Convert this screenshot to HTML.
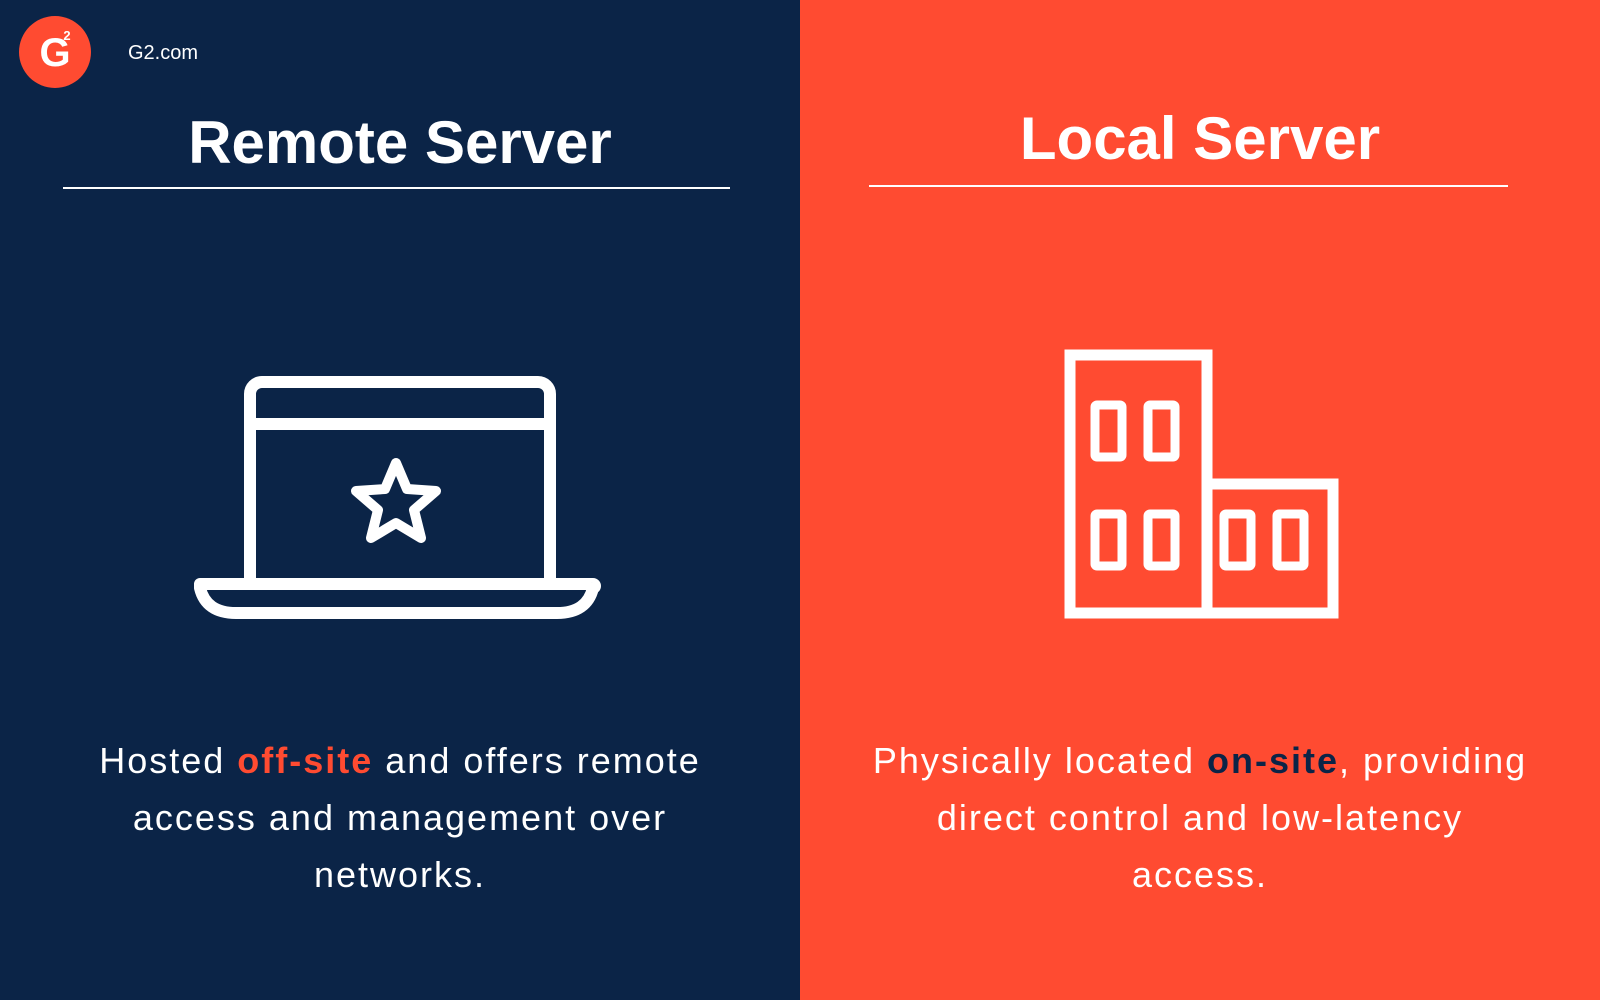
<!DOCTYPE html>
<html><head><meta charset="utf-8"><style>
html,body{margin:0;padding:0;width:1600px;height:1000px;overflow:hidden;font-family:"Liberation Sans",sans-serif}
.l{position:absolute;left:0;top:0;width:800px;height:1000px;background:#0b2447}
.r{position:absolute;left:800px;top:0;width:800px;height:1000px;background:#ff4b31}
.t{position:absolute;width:800px;text-align:center;color:#fff;font-weight:600;font-size:60px}
.p{position:absolute;width:800px;text-align:center;color:#fff;font-size:36px;line-height:57px;letter-spacing:2px}
</style></head><body>
<div class="l"></div><div class="r"></div>
<svg width="1600" height="1000" style="position:absolute;left:0;top:0">
<circle cx="55" cy="52" r="36" fill="#ff4b31"/>
<text x="55" y="66" text-anchor="middle" font-family="Liberation Sans" font-weight="bold" font-size="40" fill="#fff">G</text>
<text x="67" y="40" text-anchor="middle" font-family="Liberation Sans" font-weight="bold" font-size="13" fill="#fff">2</text>
<text x="128" y="59" font-family="Liberation Sans" font-size="20" fill="#fff">G2.com</text>
<line x1="63" y1="188" x2="730" y2="188" stroke="#fff" stroke-width="2"/>
<line x1="869" y1="186" x2="1508" y2="186" stroke="#fff" stroke-width="2"/>
<g fill="none" stroke="#fff" stroke-width="12" stroke-linejoin="round">
<path d="M250 580 V394 a12 12 0 0 1 12 -12 H538 a12 12 0 0 1 12 12 V580"/>
<line x1="250" y1="424" x2="550" y2="424"/>
<path d="M200 584 H593 a2 2 0 0 1 0 4 q-6 25 -36 25 H236 q-30 0 -36 -25 Z"/>
<path d="M396 463 L407 489 L436 491 L414 510 L421 538 L396 523 L371 538 L378 510 L356 491 L385 489 Z" stroke-width="10"/>
</g>
<g fill="none" stroke="#fff" stroke-width="11">
<rect x="1070" y="355" width="137" height="258"/>
<rect x="1207" y="484" width="126" height="129"/>
</g>
<g fill="none" stroke="#fff" stroke-width="9">
<rect x="1095" y="405" width="27" height="52" rx="2"/>
<rect x="1148" y="405" width="27" height="52" rx="2"/>
<rect x="1095" y="514" width="27" height="52" rx="2"/>
<rect x="1148" y="514" width="27" height="52" rx="2"/>
<rect x="1224" y="514" width="27" height="52" rx="2"/>
<rect x="1277" y="514" width="27" height="52" rx="2"/>
</g>
</svg>
<div class="t" style="left:0;top:108px">Remote Server</div>
<div class="t" style="left:800px;top:104px">Local Server</div>
<div class="p" style="left:0;top:732px">Hosted <b style="color:#ff4b31">off-site</b> and offers remote<br>access and management over<br>networks.</div>
<div class="p" style="left:800px;top:732px">Physically located <b style="color:#0b2447">on-site</b>, providing<br>direct control and low-latency<br>access.</div>
</body></html>
